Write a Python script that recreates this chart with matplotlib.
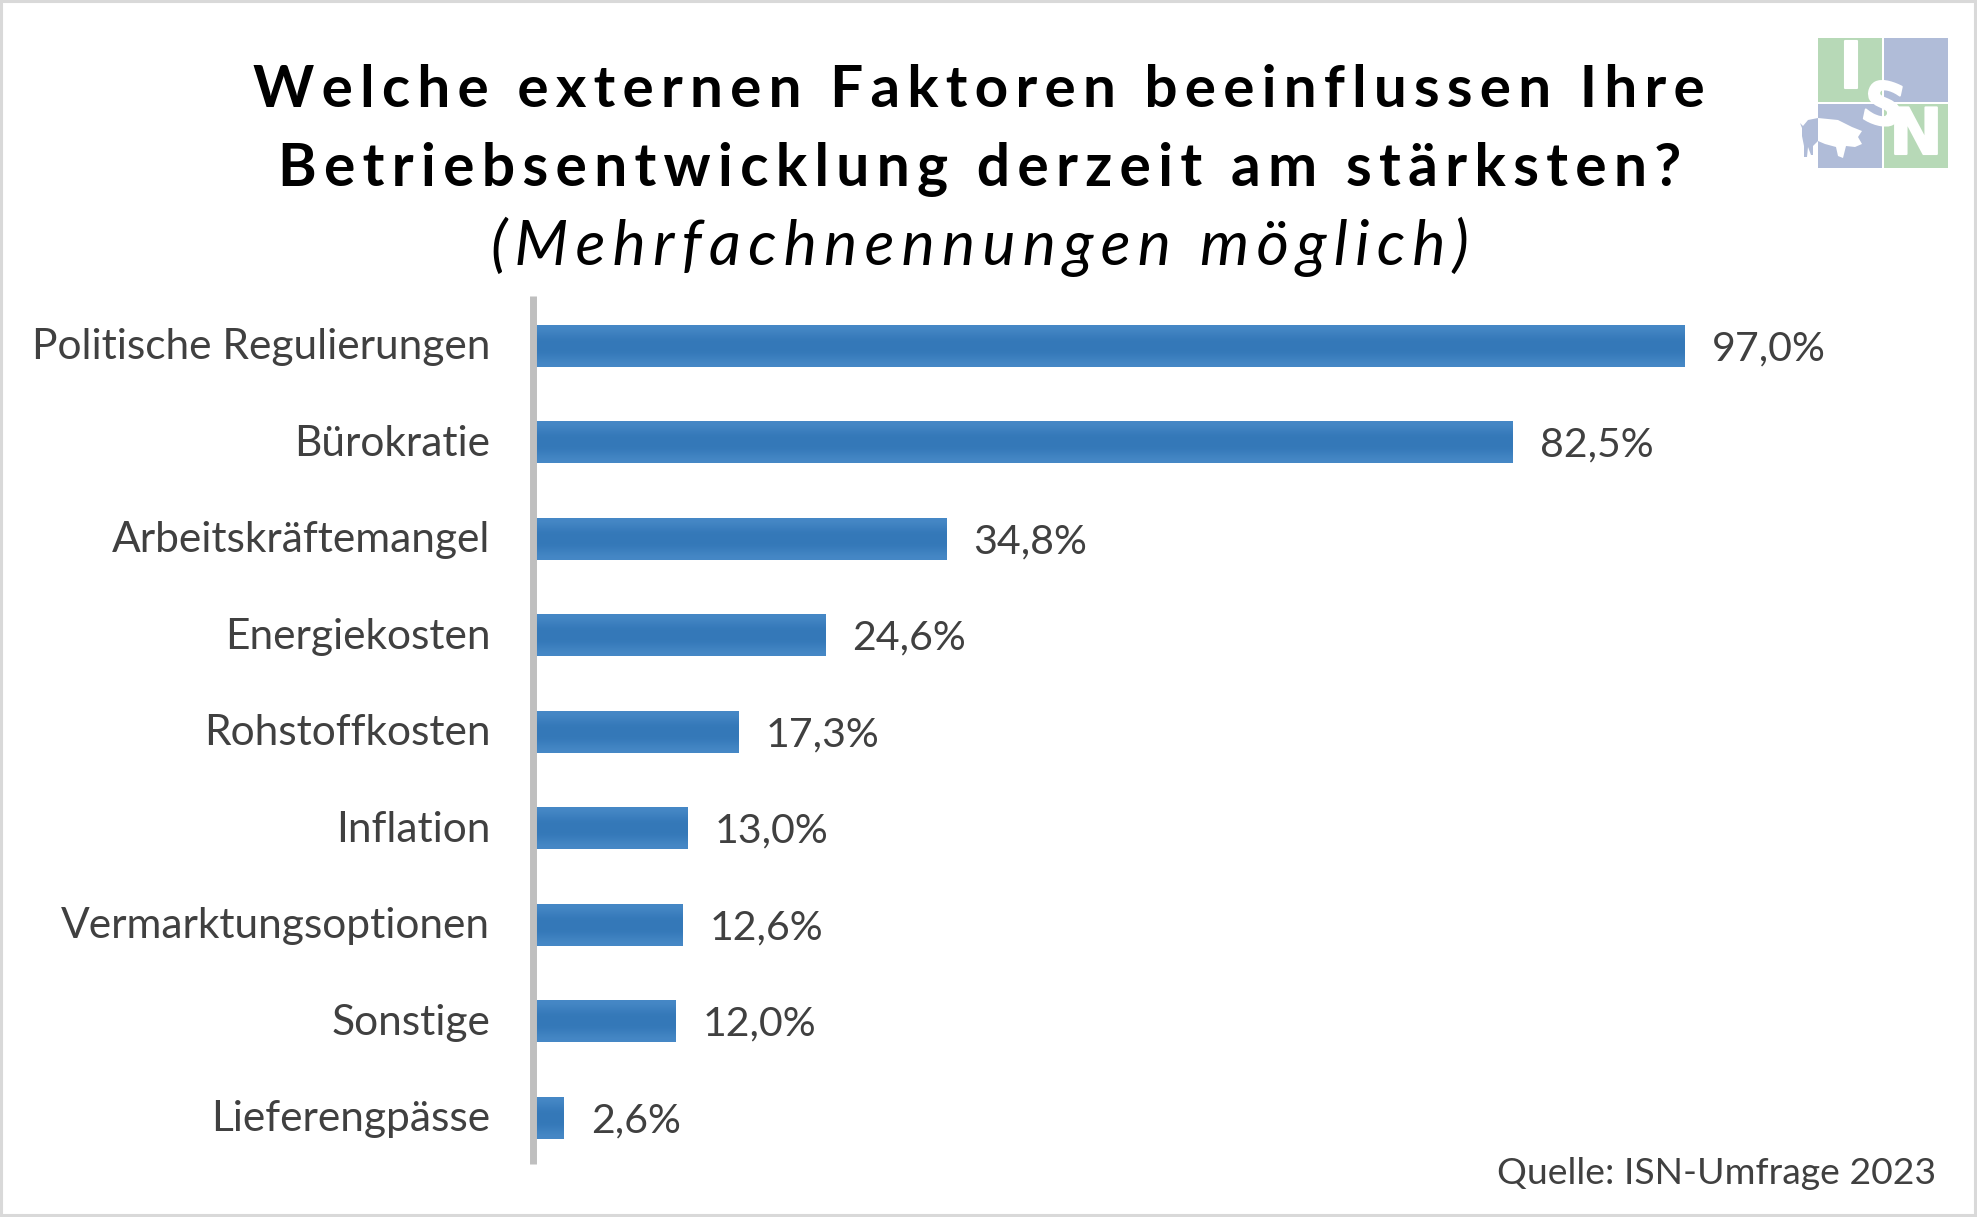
import numpy as np
import matplotlib
matplotlib.use("Agg")
import matplotlib.pyplot as plt
import matplotlib.patheffects as pe
from matplotlib.patches import Rectangle, Polygon
from matplotlib.transforms import ScaledTranslation

plt.rcParams['font.family'] = ['Lato', 'DejaVu Sans']

categories = ["Politische Regulierungen", "Bürokratie", "Arbeitskräftemangel", "Energiekosten",
              "Rohstoffkosten", "Inflation", "Vermarktungsoptionen", "Sonstige", "Lieferengpässe"]
values = [97.0, 82.5, 34.8, 24.6, 17.3, 13.0, 12.6, 12.0, 2.6]

W, H = 1977, 1217
fig = plt.figure(figsize=(W / 100, H / 100), dpi=100)

# hair spaces give the letter spacing of the title
def spaced(s, n=1):
    return ("\u200a" * n).join(s)

# overlay in pixel coordinates for frame, title and logo
bg = fig.add_axes([0, 0, 1, 1])
bg.set_xlim(0, W)
bg.set_ylim(H, 0)
bg.axis('off')
bg.add_patch(Rectangle((1, 1), W - 3, H - 3, fill=False, ec="#d9d9d9", lw=2.2))

bg.text(978.5, 90.5, spaced("Welche externen Faktoren beeinflussen Ihre", 2), fontsize=42, fontweight='bold',
        color="black", ha='center', va='center')
bg.text(980, 169.5, spaced("Betriebsentwicklung derzeit am stärksten?", 2), fontsize=42.3, fontweight='bold',
        color="black", ha='center', va='center')
bg.text(980, 247, spaced("(Mehrfachnennungen möglich)", 2), fontsize=45, style='italic',
        color="black", ha='center', va='center')
bg.text(1936, 1174, "Quelle: ISN-Umfrage 2023", fontsize=26.9, color="#404040", ha='right', va='center')

# logo
green = "#b7d9b7"
blue = "#b0bcd8"
bg.add_patch(Rectangle((1818, 38), 64, 64, fc=green, ec='none'))
bg.add_patch(Rectangle((1884, 38), 64, 64, fc=blue, ec='none'))
bg.add_patch(Rectangle((1818, 104), 64, 64, fc=blue, ec='none'))
bg.add_patch(Rectangle((1884, 104), 64, 64, fc=green, ec='none'))
pig_back = [(1818, 118), (1808, 120), (1803, 126), (1800, 123), (1802, 128), (1802, 136), (1804, 146),
            (1804, 157), (1807, 157), (1808, 147), (1811, 155), (1813, 155), (1813, 146), (1818, 141)]
pig_front = [(1818, 118), (1838, 120), (1852, 127), (1862, 131), (1858, 137), (1862, 144), (1855, 147),
             (1846, 146), (1843, 158), (1838, 156), (1836, 147), (1825, 144), (1818, 141)]
bg.add_patch(Polygon(pig_back, fc=blue, ec='none'))
bg.add_patch(Polygon(pig_front, fc='white', ec='none'))
stroke = [pe.withStroke(linewidth=1.5, foreground='white')]
bg.text(1851, 70, "I", fontsize=46, fontweight='bold', family='DejaVu Sans', color='white', ha='center',
        va='center', path_effects=stroke)
bg.text(1883, 108, "S", fontsize=42, fontweight='bold', family='DejaVu Sans', color='white', ha='center',
        va='center', rotation=-12, path_effects=stroke)
bg.text(1916, 136, "N", fontsize=46, fontweight='bold', family='DejaVu Sans', color='white', ha='center',
        va='center', path_effects=stroke)

# chart axes: value 0 sits on the middle of the grey axis line
x0, x1 = 533, 1900
ax = fig.add_axes([x0 / W, 1 - 1164.2 / H, (x1 - x0) / W, (1164.2 - 295.8) / H])
ax.patch.set_alpha(0)
y = np.arange(len(categories))
xmax = (x1 - x0) / 11.875
ylim = (8.48, -0.52)

bars = ax.barh(y, values, height=0.43, color="#3a7cbc", edgecolor='none')

# soft gradient across each bar
grad = np.array([0, .5, 1, 1, 1, .5, 0]).reshape(-1, 1)
cmap = matplotlib.colors.LinearSegmentedColormap.from_list("bar", ["#4688c6", "#3478b8"])
for b in bars:
    ax.imshow(grad, extent=(0, b.get_width(), b.get_y() + b.get_height(), b.get_y()), cmap=cmap,
              aspect='auto', interpolation='bicubic', zorder=3)
ax.set_xlim(0, xmax)
ax.set_ylim(*ylim)

for yi, v in zip(y, values):
    ax.annotate(f"{v:.1f}%".replace(".", ","), (v, yi), xytext=(19.5, -2), textcoords='offset points',
                fontsize=29.6, color="#404040", ha='left', va='center')

ax.set_yticks(y)
ax.set_yticklabels(categories)
ax.tick_params(axis='y', length=0, pad=30.7, labelsize=30.6, labelcolor="#404040")
for lab in ax.get_yticklabels():
    lab.set_transform(lab.get_transform() + ScaledTranslation(0, 1.5 / 72, fig.dpi_scale_trans))
ax.set_xticks([])
for s in ['top', 'right', 'bottom']:
    ax.spines[s].set_visible(False)
ax.spines['left'].set_color("#bfbfbf")
ax.spines['left'].set_linewidth(5)
ax.spines['left'].set_capstyle('butt')
ax.spines['left'].set_zorder(5)

fig.savefig("out.png", dpi=100, facecolor='white')
